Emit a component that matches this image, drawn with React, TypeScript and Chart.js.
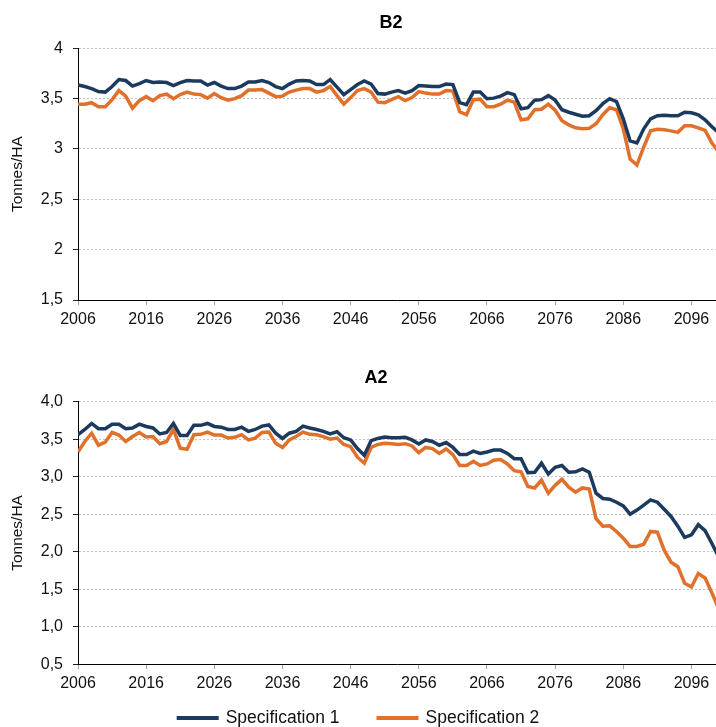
import React, { useEffect, useRef } from 'react';
import { Chart, registerables } from 'chart.js';

Chart.register(...registerables);

const FONT = "'Liberation Sans', Arial, Helvetica, sans-serif";
const TEXT = '#111111';

const years = [
  2006, 2007, 2008, 2009, 2010, 2011, 2012, 2013, 2014, 2015,
  2016, 2017, 2018, 2019, 2020, 2021, 2022, 2023, 2024, 2025,
  2026, 2027, 2028, 2029, 2030, 2031, 2032, 2033, 2034, 2035,
  2036, 2037, 2038, 2039, 2040, 2041, 2042, 2043, 2044, 2045,
  2046, 2047, 2048, 2049, 2050, 2051, 2052, 2053, 2054, 2055,
  2056, 2057, 2058, 2059, 2060, 2061, 2062, 2063, 2064, 2065,
  2066, 2067, 2068, 2069, 2070, 2071, 2072, 2073, 2074, 2075,
  2076, 2077, 2078, 2079, 2080, 2081, 2082, 2083, 2084, 2085,
  2086, 2087, 2088, 2089, 2090, 2091, 2092, 2093, 2094, 2095,
  2096, 2097, 2098, 2099, 2100,
];

const xTickYears = [2006, 2016, 2026, 2036, 2046, 2056, 2066, 2076, 2086, 2096];

const seriesNames = ['Specification 1', 'Specification 2'];
const seriesColors = ['#1c3a5e', '#e0702a'];

const b2Spec1 = [
  3.635, 3.62, 3.60, 3.57, 3.565, 3.62, 3.69, 3.68, 3.625, 3.65,
  3.68, 3.66, 3.665, 3.66, 3.63, 3.66, 3.68, 3.675, 3.675, 3.635,
  3.66, 3.625, 3.60, 3.60, 3.625, 3.665, 3.665, 3.68, 3.66, 3.62,
  3.60, 3.645, 3.675, 3.68, 3.675, 3.64, 3.64, 3.69, 3.615, 3.54,
  3.59, 3.64, 3.675, 3.645, 3.55, 3.545, 3.565, 3.58, 3.555, 3.58,
  3.63, 3.625, 3.62, 3.62, 3.645, 3.64, 3.46, 3.44, 3.565, 3.565,
  3.50, 3.505, 3.525, 3.56, 3.54, 3.40, 3.41, 3.485, 3.49, 3.53,
  3.485, 3.39, 3.365, 3.345, 3.325, 3.33, 3.38, 3.45, 3.50, 3.47,
  3.30, 3.08, 3.06, 3.20, 3.30, 3.33, 3.335, 3.33, 3.33, 3.365,
  3.36, 3.34, 3.29, 3.22, 3.16,
];

const b2Spec2 = [
  3.445, 3.445, 3.46, 3.42, 3.42, 3.49, 3.58, 3.525, 3.405, 3.48,
  3.52, 3.48, 3.53, 3.545, 3.50, 3.54, 3.565, 3.545, 3.54, 3.505,
  3.55, 3.51, 3.485, 3.50, 3.53, 3.585, 3.585, 3.59, 3.555, 3.52,
  3.525, 3.565, 3.585, 3.60, 3.60, 3.565, 3.58, 3.62, 3.53, 3.445,
  3.51, 3.58, 3.60, 3.565, 3.465, 3.46, 3.49, 3.52, 3.48, 3.51,
  3.57, 3.555, 3.545, 3.545, 3.58, 3.575, 3.37, 3.34, 3.49, 3.495,
  3.42, 3.42, 3.445, 3.485, 3.465, 3.29, 3.30, 3.39, 3.395, 3.445,
  3.385, 3.28, 3.24, 3.21, 3.20, 3.205, 3.25, 3.34, 3.41, 3.39,
  3.20, 2.90, 2.84, 3.02, 3.18, 3.195, 3.19, 3.18, 3.165, 3.23,
  3.23, 3.21, 3.185, 3.06, 2.97,
];

const a2Spec1 = [
  3.56, 3.63, 3.71, 3.64, 3.64, 3.70, 3.70, 3.64, 3.65, 3.70,
  3.67, 3.65, 3.57, 3.59, 3.71, 3.55, 3.55, 3.685, 3.685, 3.71,
  3.67, 3.66, 3.63, 3.63, 3.66, 3.605, 3.63, 3.675, 3.69, 3.58,
  3.51, 3.58, 3.605, 3.675, 3.65, 3.63, 3.605, 3.57, 3.60, 3.52,
  3.49, 3.375, 3.285, 3.48, 3.51, 3.53, 3.52, 3.52, 3.525, 3.49,
  3.435, 3.49, 3.47, 3.42, 3.455, 3.39, 3.295, 3.295, 3.34, 3.31,
  3.33, 3.355, 3.355, 3.31, 3.24, 3.24, 3.055, 3.06, 3.18, 3.035,
  3.125, 3.15, 3.06, 3.065, 3.105, 3.06, 2.78, 2.71, 2.70, 2.66,
  2.61, 2.50, 2.555, 2.62, 2.69, 2.66, 2.565, 2.47, 2.34, 2.19,
  2.225, 2.36, 2.28, 2.11, 1.93,
];

const a2Spec2 = [
  3.33, 3.47, 3.58, 3.42, 3.46, 3.59, 3.555, 3.47, 3.535, 3.59,
  3.53, 3.535, 3.44, 3.47, 3.63, 3.38, 3.365, 3.56, 3.565, 3.595,
  3.555, 3.555, 3.515, 3.525, 3.56, 3.49, 3.515, 3.59, 3.595, 3.445,
  3.39, 3.49, 3.535, 3.595, 3.565, 3.56, 3.535, 3.50, 3.515, 3.43,
  3.40, 3.26, 3.18, 3.39, 3.43, 3.445, 3.44, 3.43, 3.44, 3.41,
  3.32, 3.39, 3.375, 3.31, 3.37, 3.295, 3.15, 3.15, 3.205, 3.15,
  3.17, 3.22, 3.23, 3.17, 3.08, 3.065, 2.87, 2.85, 2.955, 2.78,
  2.885, 2.965, 2.86, 2.795, 2.85, 2.835, 2.44, 2.34, 2.345, 2.27,
  2.18, 2.07, 2.07, 2.10, 2.27, 2.26, 2.02, 1.86, 1.80, 1.58,
  1.53, 1.71, 1.65, 1.45, 1.24,
];

const b2YTickValues = [1.5, 2, 2.5, 3, 3.5, 4];
const b2YTickLabels = ['1,5', '2', '2,5', '3', '3,5', '4'];
const a2YTickValues = [0.5, 1, 1.5, 2, 2.5, 3, 3.5, 4];
const a2YTickLabels = ['0,5', '1,0', '1,5', '2,0', '2,5', '3,0', '3,5', '4,0'];

const yAxisTitle = 'Tonnes/HA';

type PanelProps = {
  title: string;
  s1: number[];
  s2: number[];
  tickValues: number[];
  tickLabels: string[];
  top: number;
  height: number;
  padTop: number;
  padBottom: number;
  titleX: number;
  titleY: number;
  legendY?: number;
};

function Panel(props: PanelProps) {
  const ref = useRef<HTMLCanvasElement | null>(null);

  useEffect(() => {
    const canvas = ref.current;
    if (!canvas) return;
    const { title, s1, s2, tickValues, tickLabels, padTop, padBottom, titleX, titleY, legendY } = props;

    const decor = {
      id: 'panelDecor',
      afterDraw(chart: any) {
        const ctx = chart.ctx as CanvasRenderingContext2D;
        ctx.save();
        ctx.font = `bold 18px ${FONT}`;
        ctx.fillStyle = '#000';
        ctx.textAlign = 'center';
        ctx.textBaseline = 'middle';
        ctx.fillText(title, titleX, titleY);
        if (legendY !== undefined) {
          ctx.font = `17.5px ${FONT}`;
          const lineW = 42;
          const gap = 7;
          const spacing = 37;
          const widths = seriesNames.map((n) => lineW + gap + ctx.measureText(n).width);
          const total = widths.reduce((a, b) => a + b, 0) + spacing * (widths.length - 1);
          let x = chart.width / 2 - total / 2;
          seriesNames.forEach((n, i) => {
            ctx.fillStyle = seriesColors[i];
            ctx.fillRect(x, legendY - 2, lineW, 4);
            ctx.fillStyle = TEXT;
            ctx.textAlign = 'left';
            ctx.textBaseline = 'middle';
            ctx.fillText(n, x + lineW + gap, legendY);
            x += widths[i] + spacing;
          });
        }
        ctx.restore();
      },
    };

    const makeData = (vals: number[]) => years.map((yr, i) => ({ x: yr, y: vals[i] }));

    const chart = new Chart(canvas, {
      type: 'line',
      data: {
        datasets: [
          {
            label: seriesNames[0],
            data: makeData(s1),
            borderColor: seriesColors[0],
            backgroundColor: seriesColors[0],
            borderWidth: 3.5,
            pointRadius: 0,
            tension: 0,
            fill: false,
          },
          {
            label: seriesNames[1],
            data: makeData(s2),
            borderColor: seriesColors[1],
            backgroundColor: seriesColors[1],
            borderWidth: 3.5,
            pointRadius: 0,
            tension: 0,
            fill: false,
          },
        ],
      },
      options: {
        animation: false,
        responsive: false,
        devicePixelRatio: 1,
        events: [],
        layout: { padding: { left: 4, right: 0, top: padTop, bottom: padBottom } },
        plugins: {
          legend: { display: false },
          title: { display: false },
          tooltip: { enabled: false },
        },
        scales: {
          x: {
            type: 'linear',
            min: 2006,
            max: 2099.6,
            afterBuildTicks: (s: any) => {
              s.ticks = xTickYears.map((v) => ({ value: v }));
            },
            afterFit: (s: any) => {
              s.height = 30;
            },
            grid: {
              drawOnChartArea: false,
              drawTicks: true,
              tickLength: 5,
              tickColor: '#a6a6a6',
              color: '#a6a6a6',
            },
            border: { display: true, color: '#000', width: 1 },
            ticks: {
              padding: 4.5,
              color: TEXT,
              font: { family: FONT, size: 16 },
              maxRotation: 0,
              autoSkip: false,
              callback: (v: any) => String(v),
            },
          },
          y: {
            type: 'linear',
            min: tickValues[0],
            max: tickValues[tickValues.length - 1],
            afterBuildTicks: (s: any) => {
              s.ticks = tickValues.map((v) => ({ value: v }));
            },
            afterFit: (s: any) => {
              s.width = 74;
            },
            grid: {
              color: '#c4c4c4',
              lineWidth: 1,
              drawTicks: true,
              tickLength: 5,
              tickColor: '#222',
            },
            border: { display: true, color: '#000', width: 1, dash: [2, 2] },
            ticks: {
              padding: 10,
              color: TEXT,
              font: { family: FONT, size: 16 },
              callback: (_v: any, i: number) => tickLabels[i],
            },
            title: {
              display: true,
              text: yAxisTitle,
              color: TEXT,
              font: { family: FONT, size: 15.5 },
              padding: { top: 4, bottom: 4 },
            },
          },
        },
      } as any,
      plugins: [decor],
    });

    return () => {
      chart.destroy();
    };
  }, []);

  return (
    <canvas
      ref={ref}
      width={716}
      height={props.height}
      style={{ position: 'absolute', left: 0, top: props.top, width: 716, height: props.height, display: 'block' }}
    />
  );
}

export default function App() {
  return (
    <div style={{ position: 'absolute', left: 0, top: 0, width: 716, height: 727, background: '#fff', overflow: 'hidden' }}>
      <Panel
        title="B2"
        s1={b2Spec1}
        s2={b2Spec2}
        tickValues={b2YTickValues}
        tickLabels={b2YTickLabels}
        top={0}
        height={350}
        padTop={48.3}
        padBottom={20}
        titleX={391}
        titleY={23.5}
      />
      <Panel
        title="A2"
        s1={a2Spec1}
        s2={a2Spec2}
        tickValues={a2YTickValues}
        tickLabels={a2YTickLabels}
        top={350}
        height={377}
        padTop={51.7}
        padBottom={32.8}
        titleX={376}
        titleY={27.7}
        legendY={368}
      />
    </div>
  );
}
